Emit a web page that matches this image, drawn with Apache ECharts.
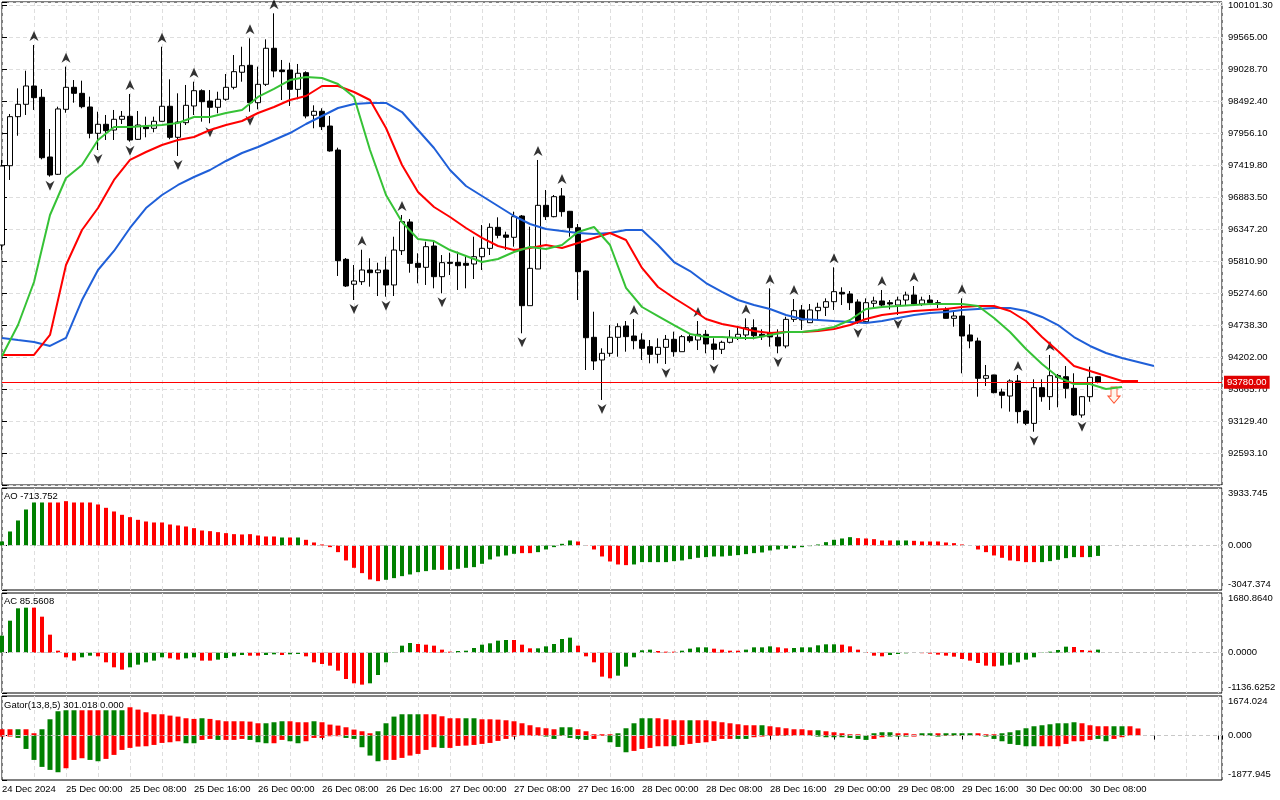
<!DOCTYPE html>
<html>
<head>
<meta charset="utf-8">
<title>BTCUSD H1 - Alligator, Fractals, AO, AC, Gator</title>
<script src="https://cdn.jsdelivr.net/npm/echarts@6/dist/echarts.min.js"></script>
<style>
  html, body { margin: 0; padding: 0; background: #fff; }
  #chart { width: 1280px; height: 800px; }
</style>
</head>
<body>
<div id="chart"></div>
<script>
// hourly bars, 24 Dec 16:00 .. 30 Dec 09:00 : [open, close, low, high]
const ohlc = [
  [96079, 97403, 95995, 97504], [97408, 98230, 97169, 98275], [98230, 98437, 97910, 98705], [98437, 98744, 98258, 99000],
  [98744, 98548, 98342, 99431], [98555, 97542, 97515, 98693], [97554, 97252, 97224, 98023], [97264, 98359, 97252, 98397],
  [98353, 98722, 98296, 99068], [98722, 98621, 98464, 98844], [98621, 98397, 98370, 98833], [98392, 97951, 97867, 98565],
  [97951, 98102, 97671, 98313], [98102, 97995, 97839, 98258], [98006, 98186, 97839, 98342], [98186, 98236, 98107, 98325],
  [98236, 97839, 97811, 98610], [97850, 98090, 97839, 98325], [98057, 98029, 97884, 98230], [98035, 98152, 97968, 98230],
  [98152, 98404, 98146, 99402], [98404, 97884, 97851, 98856], [97884, 98140, 97571, 98621], [98129, 98420, 98090, 98761],
  [98409, 98665, 98258, 98816], [98665, 98481, 98146, 98688], [98492, 98387, 98119, 98677], [98387, 98521, 98286, 98648],
  [98521, 98722, 98497, 98945], [98722, 98984, 98688, 99263], [98974, 99084, 98816, 99402], [99091, 98464, 98313, 99543],
  [98464, 98772, 98353, 99068], [98772, 99376, 98744, 99526], [99376, 98995, 98890, 99962], [99012, 98984, 98509, 99180],
  [99012, 98688, 98409, 99134], [98688, 98957, 98521, 99113], [98967, 98241, 98202, 98990], [98253, 98320, 98035, 98420],
  [98320, 98062, 98006, 98370], [98073, 97655, 97643, 98241], [97671, 95816, 95560, 97710], [95839, 95392, 95375, 95861],
  [95421, 95476, 95157, 95744], [95464, 95660, 95409, 96000], [95660, 95615, 95381, 95856], [95615, 95660, 95224, 95782],
  [95660, 95409, 95213, 95883], [95409, 95995, 95224, 96218], [95984, 96470, 95911, 96582], [96465, 95772, 95615, 96515],
  [95772, 95705, 95437, 95940], [95705, 96051, 95409, 96135], [96062, 95548, 95353, 96135], [95548, 95783, 95269, 95911],
  [95789, 95772, 95576, 95950], [95789, 95732, 95325, 95967], [95772, 95739, 95353, 95911], [95761, 95883, 95509, 96218],
  [95883, 96023, 95660, 96414], [96023, 96375, 95911, 96442], [96375, 96241, 96191, 96543], [96247, 96208, 95995, 96302],
  [96208, 96554, 96051, 96638], [96565, 95062, 94599, 96582], [95062, 95688, 95062, 96386], [95677, 96744, 95677, 97504],
  [96744, 96554, 96498, 97001], [96554, 96889, 96543, 96917], [96901, 96638, 96554, 97034], [96644, 96369, 96218, 96650],
  [96369, 95632, 95157, 96431], [95643, 94525, 93984, 95650], [94532, 94135, 93984, 94961], [94152, 94264, 93482, 94348],
  [94264, 94532, 94207, 94738], [94532, 94710, 94207, 94767], [94722, 94543, 94291, 94805], [94554, 94475, 94331, 94838],
  [94487, 94348, 94152, 94599], [94375, 94247, 94096, 94487], [94247, 94364, 94096, 94515], [94364, 94498, 94085, 94571],
  [94498, 94291, 94207, 94627], [94291, 94543, 94291, 94571], [94543, 94475, 94442, 94599], [94487, 94582, 94319, 94805],
  [94582, 94420, 94264, 94655], [94420, 94331, 94152, 94515], [94331, 94448, 94252, 94475], [94448, 94532, 94431, 94655],
  [94532, 94582, 94487, 94722], [94571, 94693, 94487, 94850], [94693, 94559, 94498, 94833], [94582, 94543, 94487, 94666],
  [94604, 94538, 94375, 95353], [94532, 94387, 94264, 94666], [94387, 94833, 94348, 94877], [94833, 94978, 94789, 95174],
  [94990, 94822, 94655, 95073], [94777, 94990, 94772, 95090], [94978, 95035, 94833, 95112], [95035, 95129, 94889, 95185],
  [95129, 95297, 94990, 95705], [95286, 95258, 95073, 95370], [95258, 95112, 94990, 95308], [95124, 94794, 94755, 95169],
  [94794, 95112, 94767, 95185], [95102, 95141, 95018, 95213], [95141, 95073, 95028, 95325], [95112, 95090, 95001, 95157],
  [95073, 95157, 94906, 95213], [95157, 95241, 95056, 95297], [95241, 95090, 95056, 95392], [95090, 95157, 95056, 95213],
  [95157, 95112, 95073, 95241], [95112, 95090, 95023, 95157], [95001, 94850, 94845, 95035], [94850, 94889, 94710, 94961],
  [94889, 94554, 93929, 95185], [94571, 94470, 94348, 94750], [94470, 93845, 93537, 94526], [93845, 93889, 93716, 94068],
  [93901, 93604, 93593, 93905], [93615, 93560, 93342, 93671], [93548, 93800, 93286, 93828], [93800, 93286, 93090, 93901],
  [93297, 93090, 93060, 93314], [93090, 93688, 92950, 93828], [93688, 93537, 93453, 93828], [93537, 93889, 93314, 94236],
  [93889, 93862, 93359, 93917], [93872, 93677, 93509, 94051], [93677, 93230, 93213, 93929], [93230, 93537, 93185, 93548],
  [93537, 93862, 93453, 94040], [93872, 93780, 93761, 93884]
];

// Alligator lines, one value every 2 bars starting at bar 0
const jaw = [94521, 94487, 94454, 94387, 94521, 95157, 95660, 95979, 96364, 96699, 96917, 97085, 97219, 97336, 97487,
  97621, 97722, 97839, 97956, 98107, 98241, 98375, 98442, 98459, 98459, 98308, 98006, 97705, 97336, 97068, 96900, 96733,
  96565, 96431, 96347, 96314, 96280, 96264, 96280, 96331, 96331, 96079, 95794, 95643, 95442, 95292, 95157, 95074, 95007,
  94906, 94839, 94822, 94805, 94789, 94772, 94805, 94856, 94906, 94940, 94956, 94990, 95007, 95023, 95023, 94973, 94873,
  94738, 94537, 94387, 94269, 94185, 94118, 94051];
const teeth = [94236, 94236, 94236, 94571, 95744, 96331, 96699, 97169, 97504, 97638, 97755, 97839, 97889, 98006, 98090,
  98157, 98291, 98392, 98509, 98576, 98744, 98744, 98643, 98509, 98040, 97420, 96967, 96716, 96548, 96364, 96197, 96062,
  95995, 96029, 96079, 96029, 96113, 96197, 96280, 96163, 95694, 95375, 95191, 95023, 94839, 94755, 94705, 94638, 94604,
  94621, 94621, 94638, 94671, 94738, 94839, 94906, 94940, 94973, 94990, 95007, 95040, 95057, 95057, 94973, 94805, 94537,
  94303, 94051, 93968, 93884, 93800, 93800];
const lips = [94219, 94738, 95459, 96582, 97202, 97420, 97839, 98057, 98057, 98074, 98090, 98124, 98224, 98224, 98291,
  98342, 98560, 98694, 98844, 98895, 98878, 98777, 98560, 97671, 96917, 96465, 96180, 96146, 95995, 95895, 95794, 95845,
  95962, 96046, 96012, 96079, 96297, 96381, 96079, 95359, 95040, 94889, 94738, 94588, 94537, 94537, 94521, 94521, 94571,
  94621, 94621, 94655, 94705, 94822, 95007, 95040, 95057, 95074, 95090, 95090, 95090, 95057, 94856, 94621, 94336, 94085,
  93867, 93750, 93750, 93666, 93699];

// bars carrying a fractal mark
const fractalUp = [4, 8, 16, 20, 24, 31, 34, 45, 50, 67, 70, 79, 87, 93, 96, 99, 104, 110, 114, 120, 127, 131];
const fractalDown = [6, 12, 16, 22, 26, 31, 44, 48, 55, 65, 75, 83, 89, 97, 107, 112, 129, 135];
const sellSignals = [[139, 93780]];

const ao = [274, 958, 1711, 2463, 2942, 2942, 2942, 2942, 3033, 2942,
  2942, 2942, 2806, 2578, 2327, 2099, 1939, 1756, 1642, 1574,
  1574, 1437, 1369, 1300, 1186, 1026, 981, 912, 844, 776,
  753, 776, 684, 616, 616, 547, 547, 547, 388, 205,
  68, -114, -456, -1026, -1528, -1893, -2327, -2441, -2349, -2235,
  -2099, -1984, -1825, -1756, -1665, -1665, -1665, -1597, -1528, -1483,
  -1255, -958, -753, -684, -570, -525, -525, -456, -274, -114,
  114, 342, 274, -23, -274, -753, -1095, -1300, -1346, -1300,
  -1140, -1140, -1140, -1140, -1072, -1026, -935, -844, -798, -753,
  -753, -707, -661, -593, -525, -479, -342, -274, -228, -182,
  -114, -46, 68, 228, 388, 479, 570, 502, 479, 433,
  342, 342, 342, 342, 319, 274, 274, 274, 205, 160,
  68, -23, -274, -456, -684, -844, -1026, -1072, -1140, -1140,
  -1140, -1072, -981, -867, -798, -798, -798, -713.752];
// colour buffer: g = rising bar, r = falling bar
const aoDir = ('ggggggrrrr rrrrrrrrrr rrrrrrrrrr rrrrrgrgrr rrrrrrrrgg gggggrgggg gggggrrggg ggrrrrrrrg ' +
  'gggggggggg gggggggggg gggggggrrr rrggrrrrrr rrrrrrrrrr gggggrgg').replace(/ /g, '');

const ac = [479, 901, 1249, 1268, 1268, 1014, 507, 56, -131, -225,
  -131, -85, -103, -272, -413, -479, -413, -338, -272, -225,
  -131, -160, -197, -160, -131, -225, -225, -197, -150, -103,
  -66, -85, -85, -66, -47, -66, -47, -38, -103, -272,
  -319, -366, -507, -742, -864, -901, -864, -629, -272, -9,
  197, 272, 244, 225, 197, 85, 28, 47, 56, 131,
  225, 263, 338, 357, 357, 225, 122, 122, 178, 244,
  385, 423, 197, -103, -272, -676, -723, -648, -394, -131,
  66, 85, 47, 28, 28, 56, 113, 150, 150, 113,
  85, 56, 56, 85, 150, 150, 178, 150, 122, 131,
  150, 150, 207, 235, 235, 225, 178, 85, 19, -85,
  -103, -66, -38, -19, -10, -15, -28, -56, -85, -113,
  -178, -225, -291, -366, -385, -366, -338, -272, -197, -131,
  -9, 28, 75, 169, 160, 75, 56, 85.5608];
const acDir = ('ggggrrrrrr ggrrrrgggg grrggrrggg grrggrggrr rrrrrrgggg ggrrrrrggg ggggrrrggg ggrrrrrggg ' +
  'ggrrrggggr rrrggggrrg gggggrrrrr rggggrrrrr rrrrrggggg ggggrrrg').replace(/ /g, '');

const gatorUp = [268, 268, 268, 268, 99, 268, 690, 1029, 1071, 1071,
  1071, 1071, 1071, 1071, 1071, 1071, 1198, 1099, 986, 902,
  902, 845, 803, 733, 705, 733, 705, 648, 606, 606,
  606, 592, 521, 521, 564, 606, 606, 564, 564, 606,
  564, 465, 423, 352, 254, 183, 99, 183, 521, 803,
  902, 902, 902, 902, 902, 817, 733, 733, 733, 733,
  690, 690, 676, 648, 606, 521, 437, 352, 310, 268,
  352, 352, 268, 183, 56, 56, 56, 99, 310, 521,
  733, 733, 733, 690, 648, 648, 648, 648, 648, 606,
  564, 521, 479, 437, 437, 437, 395, 352, 310, 268,
  268, 225, 225, 183, 141, 99, 56, 56, 14, 99,
  141, 141, 99, 99, 56, 99, 99, 99, 99, 99,
  99, 99, 99, 56, 56, 99, 141, 225, 310, 395,
  437, 479, 521, 521, 564, 521, 437, 395, 395, 395,
  395, 395, 301.018];
const gatorUpDir = ('rrgrrggggg rrrgggrrrr rrrrrgrrrr rrrgggrrrg rrrrrrrggg gggrrrrrgg rrrrrrrrrr ggrrrrrggg ' +
  'ggrrrrgrrr rrrrrgrrrr rrgrrrrrrg ggrrrggrgg ggrrrggggg gggggrrrrg grr').replace(/ /g, '');

const gatorDown = [-42, -42, -99, -564, -1029, -1324, -1451, -1550, -1381, -1029,
  -958, -1029, -1085, -986, -817, -606, -521, -465, -451, -395,
  -310, -282, -240, -324, -324, -183, -141, -183, -183, -183,
  -141, -183, -282, -324, -324, -183, -240, -324, -240, -99,
  -99, -28, -28, -99, -141, -493, -845, -1085, -1029, -1029,
  -944, -845, -775, -606, -493, -521, -521, -437, -423, -395,
  -352, -310, -225, -141, -42, -14, -14, -5, -42, -141,
  -14, -99, -141, -183, -141, -14, -282, -479, -705, -648,
  -564, -521, -451, -451, -451, -395, -352, -310, -282, -225,
  -141, -141, -141, -141, -70, -42, -14, -14, -14, -14,
  -14, -14, -42, -70, -70, -70, -99, -141, -183, -141,
  -70, -42, -42, -42, -42, -14, -14, -42, -14, -14,
  -14, -14, -14, -42, -141, -240, -352, -395, -451, -451,
  -451, -451, -451, -352, -240, -240, -183, -141, -240, -141,
  -70];
const gatorDownDir = ('rrggggggrr rggrrrrrrr rrrggrrgrr rgggrrggrr rrrgggggrr rrrrrgrrrr rrrrrrrrgg rgggrrgggr ' +
  'rrrrgrrrrr rrggrrrrgr rggggggggr rgggrrggrr rrrggggggg rrrrrrrggr r').replace(/ /g, '');

const xLabels = ['24 Dec 2024', '25 Dec 00:00', '25 Dec 08:00', '25 Dec 16:00', '26 Dec 00:00', '26 Dec 08:00',
  '26 Dec 16:00', '27 Dec 00:00', '27 Dec 08:00', '27 Dec 16:00', '28 Dec 00:00', '28 Dec 08:00', '28 Dec 16:00',
  '29 Dec 00:00', '29 Dec 08:00', '29 Dec 16:00', '30 Dec 00:00', '30 Dec 08:00'];

const GREEN = '#008000', RED = '#ff0000';
const FONT = 'Liberation Sans';
const FS = 9.5;
const GRID_LINE = { color: '#dedede', type: [4, 3], width: 1 };
const UP_ARROW = 'path://M5,0 L10,10 L5,7 L0,10 Z';
const DOWN_ARROW = 'path://M0,0 L5,3 L10,0 L5,10 Z';
const SELL_ARROW = 'path://M3,0 L9,0 L9,9 L12,9 L6,16 L0,9 L3,9 Z';

var dom = document.getElementById('chart');
var chart = echarts.init(dom, null, { renderer: 'canvas' });

const panel = (top, height) => ({
  left: 2, right: 58, top: top, height: height, show: true,
  borderColor: '#000', borderWidth: 1, backgroundColor: '#fff',
  containLabel: false, outerBoundsMode: 'none'
});

const xAxisFor = (gi, labels) => ({
  type: 'value', gridIndex: gi, min: 0, max: 152.5, interval: 8,
  axisLine: { show: false },
  axisTick: { show: labels, length: 4, lineStyle: { color: '#000' } },
  axisLabel: {
    show: labels, align: 'left', margin: 4, color: '#000', fontFamily: FONT, fontSize: FS,
    formatter: v => xLabels[v / 8] || ''
  },
  splitLine: { show: true, lineStyle: GRID_LINE },
  minorTick: { show: false, splitNumber: 2 },
  minorSplitLine: { show: true, lineStyle: GRID_LINE }
});

const subY = (gi, min, max, dec) => ({
  type: 'value', gridIndex: gi, position: 'right', min: min, max: max,
  axisLine: { show: false },
  axisTick: { show: true, length: 5, customValues: [min, 0, max], lineStyle: { color: '#000' } },
  axisLabel: {
    margin: 6, customValues: [min, 0, max], color: '#000', fontFamily: FONT, fontSize: FS,
    formatter: v => v === max ? '{t|' + v.toFixed(dec) + '}' : v === min ? '{b|' + v.toFixed(dec) + '}' : v.toFixed(dec),
    rich: {
      t: { padding: [10, 0, 0, 0], fontFamily: FONT, fontSize: FS, color: '#000' },
      b: { padding: [0, 0, 11, 0], fontFamily: FONT, fontSize: FS, color: '#000' }
    }
  },
  splitLine: { show: false }
});

const zeroLine = {
  silent: true, symbol: 'none', label: { show: false },
  lineStyle: { color: '#c8c8c8', type: [4, 3], width: 1 },
  data: [{ yAxis: 0 }]
};

const dirColor = dir => p => dir[p.dataIndex] === 'g' ? GREEN : RED;
const titleStyle = { fontFamily: FONT, fontSize: FS, fontWeight: 'normal', color: '#000' };
const lastClose = ohlc[ohlc.length - 1][1];

var option = {
  animation: false,
  backgroundColor: '#fff',
  textStyle: { fontFamily: FONT },
  title: [
    { text: 'AO ' + ao[ao.length - 1].toFixed(3), left: 4, top: 491, padding: 0, textStyle: titleStyle },
    { text: 'AC ' + ac[ac.length - 1].toFixed(4), left: 4, top: 596, padding: 0, textStyle: titleStyle },
    {
      text: 'Gator(13,8,5) ' + gatorUp[gatorUp.length - 1].toFixed(3) + ' ' +
        Math.abs(gatorDown[gatorUp.length - 1] || 0).toFixed(3),
      left: 4, top: 700, padding: 0, textStyle: titleStyle
    }
  ],
  grid: [panel(2, 483), panel(488, 102), panel(593, 100), panel(696, 84)],
  xAxis: [xAxisFor(0, false), xAxisFor(1, false), xAxisFor(2, false), xAxisFor(3, true)],
  yAxis: [
    {
      type: 'value', gridIndex: 0, position: 'right', min: 92056.8, max: 100151.6, interval: 536.3,
      axisLine: { show: false },
      axisTick: { show: true, length: 5, lineStyle: { color: '#000' } },
      axisLabel: {
        margin: 6, color: '#000', fontFamily: FONT, fontSize: FS,
        formatter: v => (v < 92100 || v > 100120) ? '' : v.toFixed(2)
      },
      splitLine: { show: true, lineStyle: GRID_LINE }
    },
    subY(1, -3047.374, 3933.745, 3),
    subY(2, -1136.6252, 1680.8640, 4),
    subY(3, -1877.945, 1674.024, 3)
  ],
  series: [
    {
      name: 'BTCUSD', type: 'candlestick', xAxisIndex: 0, yAxisIndex: 0,
      barWidth: 5,
      data: ohlc.map((d, i) => [i, d[0], d[1], d[2], d[3]]),
      itemStyle: { color: '#fff', color0: '#000', borderColor: '#000', borderColor0: '#000', borderWidth: 1 },
      markLine: {
        silent: true, symbol: 'none',
        lineStyle: { color: RED, width: 1, type: 'solid' },
        label: {
          show: true, position: 'end', distance: 2, formatter: p => p.value.toFixed(2),
          color: '#fff', backgroundColor: '#e00000', padding: [2, 3, 1, 3], fontFamily: FONT, fontSize: FS
        },
        data: [{ yAxis: lastClose }]
      }
    },
    {
      name: 'Jaw', type: 'line', xAxisIndex: 0, yAxisIndex: 0, symbol: 'none',
      data: jaw.map((v, k) => [2 * k, v]), lineStyle: { color: '#1f5fd8', width: 2 }
    },
    {
      name: 'Teeth', type: 'line', xAxisIndex: 0, yAxisIndex: 0, symbol: 'none',
      data: teeth.map((v, k) => [2 * k, v]), lineStyle: { color: RED, width: 2 }
    },
    {
      name: 'Lips', type: 'line', xAxisIndex: 0, yAxisIndex: 0, symbol: 'none',
      data: lips.map((v, k) => [2 * k, v]), lineStyle: { color: '#36c236', width: 2 }
    },
    {
      name: 'Fractal up', type: 'scatter', xAxisIndex: 0, yAxisIndex: 0,
      symbol: UP_ARROW, symbolSize: [9, 10], symbolOffset: [0, -9],
      itemStyle: { color: '#000' },
      data: fractalUp.map(i => [i, ohlc[i][3]])
    },
    {
      name: 'Fractal down', type: 'scatter', xAxisIndex: 0, yAxisIndex: 0,
      symbol: DOWN_ARROW, symbolSize: [9, 10], symbolOffset: [0, 9],
      itemStyle: { color: '#000' },
      data: fractalDown.map(i => [i, ohlc[i][2]])
    },
    {
      name: 'Sell', type: 'scatter', xAxisIndex: 0, yAxisIndex: 0,
      symbol: SELL_ARROW, symbolSize: [12, 16], symbolOffset: [0, 13],
      itemStyle: { color: '#fff4ea', borderColor: '#ff2a00', borderWidth: 1 },
      data: sellSignals
    },
    {
      name: 'AO', type: 'bar', xAxisIndex: 1, yAxisIndex: 1, barWidth: 4,
      data: ao.map((v, i) => [i, v]),
      itemStyle: { color: dirColor(aoDir) },
      markLine: zeroLine
    },
    {
      name: 'AC', type: 'bar', xAxisIndex: 2, yAxisIndex: 2, barWidth: 4,
      data: ac.map((v, i) => [i, v]),
      itemStyle: { color: dirColor(acDir) },
      markLine: zeroLine
    },
    {
      name: 'Gator up', type: 'bar', xAxisIndex: 3, yAxisIndex: 3, barWidth: 5, barGap: '-100%',
      data: gatorUp.map((v, i) => [i, v]),
      itemStyle: { color: dirColor(gatorUpDir) },
      markLine: zeroLine
    },
    {
      name: 'Gator down', type: 'bar', xAxisIndex: 3, yAxisIndex: 3, barWidth: 5, barGap: '-100%',
      data: gatorDown.map((v, i) => [i, v]),
      itemStyle: { color: dirColor(gatorDownDir) }
    }
  ]
};

chart.setOption(option);
window.addEventListener('resize', chart.resize);
</script>
</body>
</html>
